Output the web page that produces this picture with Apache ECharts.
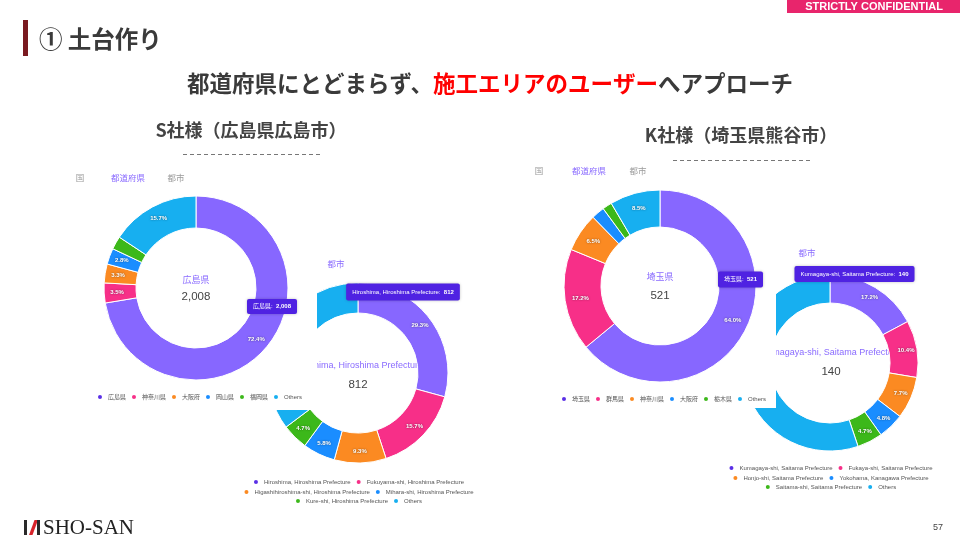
<!DOCTYPE html>
<html><head><meta charset="utf-8">
<script src="https://cdn.jsdelivr.net/npm/echarts/dist/echarts.min.js"></script>
<style>html,body{margin:0;padding:0;background:#fff}#c{width:960px;height:540px}</style>
</head><body><div id="c"></div>
<script>
// ---- data ----
const sPrefNames = ['広島県','神奈川県','大阪府','岡山県','福岡県','Others'];
const sPrefValues = [2008, 97, 92, 78, 64, 435];
const sCityNames = ['Hiroshima, Hiroshima Prefecture','Fukuyama-shi, Hiroshima Prefecture','Higashihiroshima-shi, Hiroshima Prefecture','Mihara-shi, Hiroshima Prefecture','Kure-shi, Hiroshima Prefecture','Others'];
const sCityValues = [812, 435, 258, 161, 130, 978];
const kPrefNames = ['埼玉県','群馬県','神奈川県','大阪府','栃木県','Others'];
const kPrefValues = [521, 140, 53, 18, 13, 69];
const kCityNames = ['Kumagaya-shi, Saitama Prefecture','Fukaya-shi, Saitama Prefecture','Honjo-shi, Saitama Prefecture','Yokohama, Kanagawa Prefecture','Saitama-shi, Saitama Prefecture','Others'];
const kCityValues = [140, 85, 63, 39, 38, 449];
const tabLabels = ['国','都道府県','都市'];

// ---- styles ----
const sliceColors = ['#8767ff','#f72f88','#fb8a22','#1a8dff','#3cb81a','#17aff0'];
const legendColors = ['#5a2fe6','#f72f88','#fb8a22','#1a8dff','#3cb81a','#17aff0'];
const FONT = "'Liberation Sans','Noto Sans CJK JP',sans-serif";
const JFONT = "'Noto Sans CJK JP',sans-serif";
const PURPLE = '#8a6bff';

const mctx = document.createElement('canvas').getContext('2d');
function tw(t, font){ mctx.font = font; return mctx.measureText(t).width; }
function legendLeft(names, cx, fs, iw, gap){
  let w = 0;
  names.forEach((n,i)=>{ w += iw + 5 + tw(n, fs+'px '+FONT); if(i) w += gap; });
  return cx - w/2;
}
function fmtNum(v){ return v.toLocaleString('en-US'); }

function pie(names, values, center, radius, zl){
  return {
    type:'pie', zlevel: zl, z:2, center, radius, startAngle: 90, clockwise: true,
    avoidLabelOverlap:false, animation:false, silent:true,
    itemStyle:{borderColor:'#fff', borderWidth:1},
    label:{show:true, position:'inside', color:'#fff', fontSize:6, fontWeight:'bold', fontFamily:FONT,
      textShadowColor:'rgba(0,0,0,0.55)', textShadowBlur:2,
      formatter: p => p.percent >= 2.5 ? p.percent.toFixed(1)+'%' : ''},
    labelLine:{show:false},
    emphasis:{disabled:true},
    data: names.map((n,i)=>({name:n, value:values[i], itemStyle:{color:sliceColors[i]}}))
  };
}
function legend(names, idxs, cx, y, zl){
  const sub = idxs.map(i=>names[i]);
  return {
    zlevel: zl, orient:'horizontal', padding:0, itemGap:4, itemWidth:6, itemHeight:6, icon:'circle',
    selectedMode:false, left: legendLeft(sub, cx, 6, 6, 4), top: y - 4,
    textStyle:{fontSize:6, color:'#555', fontFamily:FONT},
    data: idxs.map(i=>({name:names[i], itemStyle:{color:legendColors[i]}}))
  };
}
function txt(text, x, y, font, fill, zl, align, z){
  return {type:'text', zlevel:zl, z: z||0, x, y, silent:true,
    style:{text, font, fill, textAlign: align||'center', textVerticalAlign:'middle'}};
}
function tip(name, value, cx, cy, h, zl){
  const fa = '6px '+FONT, fb = 'bold 6px '+FONT;
  const ta = name + ':  ', tb = fmtNum(value);
  const wa = tw(ta, fa), wb = tw(tb, fb), w = wa + wb + 12;
  const x0 = cx - w/2;
  return [
    {type:'rect', zlevel:zl, z:50, silent:true, shape:{x:x0, y:cy-h/2, width:w, height:h, r:2},
      style:{fill:'#4f22e2', shadowBlur:3, shadowColor:'rgba(0,0,0,0.25)'}},
    txt(ta, x0+6, cy, fa, '#fff', zl, 'left', 51),
    txt(tb, x0+6+wa, cy, fb, '#fff', zl, 'left', 51)
  ];
}
function tabs(xs, y, zl){
  return tabLabels.map((t,i)=>txt(t, xs[i], y, '8.5px '+JFONT, i===1?PURPLE:'#9a9a9a', zl));
}

const chart = echarts.init(document.getElementById('c'), null, {renderer:'canvas'});

const graphics = [
  // header
  {type:'rect', zlevel:2, shape:{x:787,y:0,width:173,height:13}, style:{fill:'#e8256c'}},
  txt('STRICTLY CONFIDENTIAL', 874, 7, "bold 11px 'Liberation Sans Narrow','Liberation Sans',sans-serif", '#fff', 2, 'center', 5),
  {type:'rect', zlevel:2, shape:{x:23,y:20,width:5,height:36}, style:{fill:'#7a1a20'}},
  txt('① 土台作り', 39, 39, 'bold 23.5px '+JFONT, '#3a3a3a', 2, 'left'),
  {type:'text', zlevel:2, x:490, y:83, silent:true, style:{
    text:'{g|都道府県にとどまらず、}{r|施工エリアのユーザー}{g|へアプローチ}', textAlign:'center', textVerticalAlign:'middle',
    rich:{g:{fill:'#3a3a3a', fontSize:22.5, fontWeight:'bold', fontFamily:JFONT}, r:{fill:'#ff0000', fontSize:22.5, fontWeight:'bold', fontFamily:JFONT}}}},
  txt('S社様（広島県広島市）', 251, 130, 'bold 18px '+JFONT, '#444', 2),
  txt('K社様（埼玉県熊谷市）', 741, 135, 'bold 18px '+JFONT, '#444', 2),
  {type:'line', zlevel:2, shape:{x1:183,y1:154.5,x2:322,y2:154.5}, style:{stroke:'#777', lineWidth:1, lineDash:[4,3]}},
  {type:'line', zlevel:2, shape:{x1:673,y1:160.5,x2:812,y2:160.5}, style:{stroke:'#777', lineWidth:1, lineDash:[4,3]}},
  // white panels of prefecture screenshots (cover city charts)
  {type:'rect', zlevel:1, shape:{x:60,y:160,width:257,height:250}, style:{fill:'#fff'}},
  {type:'rect', zlevel:1, shape:{x:530,y:160,width:246,height:248}, style:{fill:'#fff'}},
  // tabs
  ...tabs([80,128,176], 178, 2),
  ...tabs([539,589,638], 171, 2),
  txt('都市', 336, 264, '8.5px '+JFONT, PURPLE, 0),
  txt('都市', 807, 253, '8.5px '+JFONT, PURPLE, 0),
  // centre texts
  txt(sPrefNames[0], 196, 280, '9px '+JFONT, PURPLE, 2),
  txt(fmtNum(sPrefValues[0]), 196, 297, '11.5px '+FONT, '#444', 2),
  txt(kPrefNames[0], 660, 277, '9px '+JFONT, PURPLE, 2),
  txt(fmtNum(kPrefValues[0]), 660, 296, '11.5px '+FONT, '#444', 2),
  txt(sCityNames[0], 358, 366, '9px '+FONT, PURPLE, 0),
  txt(fmtNum(sCityValues[0]), 358, 385, '11.5px '+FONT, '#444', 0),
  txt(kCityNames[0], 831, 353, '9px '+FONT, PURPLE, 0),
  txt(fmtNum(kCityValues[0]), 831, 372, '11.5px '+FONT, '#444', 0),
  // tooltip boxes
  ...tip(sPrefNames[0], sPrefValues[0], 272, 306.5, 15, 2),
  ...tip(kPrefNames[0], kPrefValues[0], 740.5, 279.5, 16, 2),
  ...tip(sCityNames[0], sCityValues[0], 403, 292, 17, 0),
  ...tip(kCityNames[0], kCityValues[0], 854.5, 274, 16, 0),
  // footer
  {type:'rect', zlevel:2, shape:{x:24,y:520,width:3,height:15}, style:{fill:'#2a2a2a'}},
  {type:'polygon', zlevel:2, shape:{points:[[29,535],[32.5,535],[38,520],[34.5,520]]}, style:{fill:'#d8232a'}},
  {type:'rect', zlevel:2, shape:{x:37,y:520,width:3,height:15}, style:{fill:'#2a2a2a'}},
  txt('SHO-SAN', 43, 528, "21px 'Liberation Serif',serif", '#222', 2, 'left'),
  txt('57', 938, 528, '9px '+FONT, '#444', 2)
];

chart.setOption({
  backgroundColor:'#fff',
  animation:false,
  tooltip:{show:false},
  legend:[
    legend(sPrefNames, [0,1,2,3,4,5], 196, 397, 2),
    legend(kPrefNames, [0,1,2,3,4,5], 660, 399, 2),
    legend(sCityNames, [0,1], 357, 482, 0),
    legend(sCityNames, [2,3], 357, 492, 0),
    legend(sCityNames, [4,5], 357, 501, 0),
    legend(kCityNames, [0,1], 829, 468, 0),
    legend(kCityNames, [2,3], 829, 478, 0),
    legend(kCityNames, [4,5], 829, 487, 0)
  ],
  series:[
    pie(sCityNames, sCityValues, [358,373], [60,90], 0),
    pie(kCityNames, kCityValues, [830,363], [60,88], 0),
    pie(sPrefNames, sPrefValues, [196,288], [60,92], 2),
    pie(kPrefNames, kPrefValues, [660,286], [59,96], 2)
  ],
  graphic: graphics
});
</script></body></html>
